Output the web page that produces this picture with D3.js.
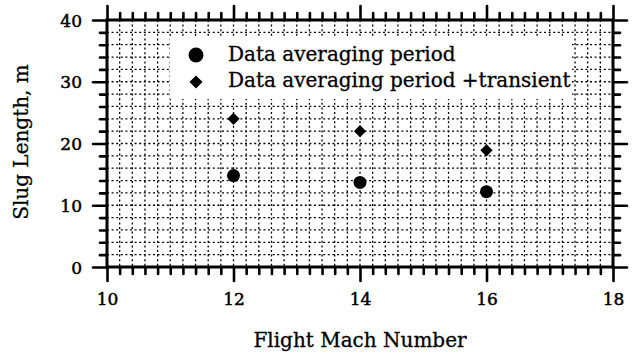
<!DOCTYPE html>
<html>
<head>
<meta charset="utf-8">
<script src="https://cdn.jsdelivr.net/npm/d3@7"></script>
<style>
  body { margin: 0; background: #fff; }
  svg { display: block; }
</style>
</head>
<body>
<svg id="chart" width="637" height="357"></svg>
<script>
// Slug length vs. flight Mach number
const machNumbers = [12, 14, 16];
const slugAveraging = [14.8, 13.7, 12.2];   // data averaging period
const slugTransient = [24.0, 22.0, 18.9];   // data averaging period + transient
const xTickLabels = [10, 12, 14, 16, 18];
const yTickLabels = [0, 10, 20, 30, 40];
const legendLabels = ["Data averaging period", "Data averaging period +transient"];
const xTitle = "Flight Mach Number";
const yTitle = "Slug Length, m";

const plot = { left: 107, right: 613, top: 20, bottom: 267 };
const font = "'DejaVu Serif', serif";

const x = d3.scaleLinear().domain([10, 18]).range([plot.left, plot.right]);
const y = d3.scaleLinear().domain([0, 40]).range([plot.bottom, plot.top]);

const svg = d3.select("#chart");

const xMinor = d3.range(10, 18.001, 0.2).map(v => +v.toFixed(1)).filter(v => !xTickLabels.includes(v));
const yMinor = d3.range(0, 40.001, 2).filter(v => !yTickLabels.includes(v));
const xGrid = d3.range(10.2, 17.9, 0.2).map(v => +v.toFixed(1));
const yGrid = d3.range(2, 39, 2);

// dotted grid
const grid = svg.append("g")
  .attr("stroke", "#000")
  .attr("stroke-width", 1.3)
  .attr("stroke-dasharray", "2,2.6");
grid.selectAll("line.gx").data(xGrid).join("line")
  .attr("class", "gx")
  .attr("x1", d => x(d)).attr("x2", d => x(d))
  .attr("y1", y(40)).attr("y2", y(0));
grid.selectAll("line.gy").data(yGrid).join("line")
  .attr("class", "gy")
  .attr("x1", x(10)).attr("x2", x(18))
  .attr("y1", d => y(d)).attr("y2", d => y(d));

// legend panel sits over the grid
svg.append("rect")
  .attr("x", 170).attr("y", 37).attr("width", 402).attr("height", 62)
  .attr("fill", "#fff");

// axes: thick frame, outward ticks on all four sides
function styleAxis(g) {
  g.select(".domain").remove();
  g.selectAll(".tick line")
    .attr("stroke", "#000").attr("stroke-width", 2.6).attr("stroke-linecap", "round");
}
function addAxis(axis, tx, ty) {
  return svg.append("g").attr("transform", `translate(${tx},${ty})`).call(axis).call(styleAxis);
}

addAxis(d3.axisBottom(x).tickValues(xMinor).tickSize(7).tickFormat(""), 0, plot.bottom);
addAxis(d3.axisTop(x).tickValues(xMinor).tickSize(7).tickFormat(""), 0, plot.top);
addAxis(d3.axisLeft(y).tickValues(yMinor).tickSize(7).tickFormat(""), plot.left, 0);
addAxis(d3.axisRight(y).tickValues(yMinor).tickSize(7).tickFormat(""), plot.right, 0);

const xAxisG = addAxis(d3.axisBottom(x).tickValues(xTickLabels).tickSize(14), 0, plot.bottom);
addAxis(d3.axisTop(x).tickValues(xTickLabels).tickSize(14).tickFormat(""), 0, plot.top);
const yAxisG = addAxis(d3.axisLeft(y).tickValues(yTickLabels).tickSize(14), plot.left, 0);
addAxis(d3.axisRight(y).tickValues(yTickLabels).tickSize(14).tickFormat(""), plot.right, 0);

xAxisG.selectAll(".tick text")
  .attr("y", 38).attr("dy", null)
  .attr("font-family", font).attr("font-size", 17).attr("fill", "#000")
  .attr("stroke", "#000").attr("stroke-width", 0.5);
yAxisG.selectAll(".tick text")
  .attr("x", -25).attr("dy", "0.36em")
  .attr("font-family", font).attr("font-size", 17).attr("fill", "#000")
  .attr("stroke", "#000").attr("stroke-width", 0.5);

svg.append("rect")
  .attr("x", plot.left).attr("y", plot.top)
  .attr("width", plot.right - plot.left).attr("height", plot.bottom - plot.top)
  .attr("fill", "none").attr("stroke", "#000").attr("stroke-width", 3);

// data markers
const diamond = d3.symbol().type(d3.symbolDiamond2);
svg.append("g").selectAll("path")
  .data(machNumbers.map((m, i) => [m, slugTransient[i]]))
  .join("path")
  .attr("transform", d => `translate(${x(d[0])},${y(d[1])})`)
  .attr("d", diamond.size(96)())
  .attr("fill", "#000");

svg.append("g").selectAll("circle")
  .data(machNumbers.map((m, i) => [m, slugAveraging[i]]))
  .join("circle")
  .attr("cx", d => x(d[0])).attr("cy", d => y(d[1]))
  .attr("r", 6.5)
  .attr("fill", "#000");

// legend
const legend = svg.append("g");
legend.append("circle").attr("cx", 196).attr("cy", 55).attr("r", 7.5).attr("fill", "#000");
legend.append("path")
  .attr("transform", "translate(196,82)")
  .attr("d", diamond.size(110)())
  .attr("fill", "#000");
legend.selectAll("text").data(legendLabels).join("text")
  .attr("x", 228).attr("y", (d, i) => 61 + i * 26)
  .attr("font-family", font).attr("font-size", 20).attr("fill", "#000")
  .attr("stroke", "#000").attr("stroke-width", 0.3)
  .text(d => d);

// axis titles
svg.append("text")
  .attr("x", (plot.left + plot.right) / 2).attr("y", 347)
  .attr("text-anchor", "middle")
  .attr("font-family", font).attr("font-size", 20).attr("fill", "#000")
  .attr("stroke", "#000").attr("stroke-width", 0.3)
  .text(xTitle);
svg.append("text")
  .attr("transform", "translate(28,142) rotate(-90)")
  .attr("text-anchor", "middle")
  .attr("font-family", font).attr("font-size", 20).attr("fill", "#000")
  .attr("stroke", "#000").attr("stroke-width", 0.3)
  .text(yTitle);
</script>
</body>
</html>
